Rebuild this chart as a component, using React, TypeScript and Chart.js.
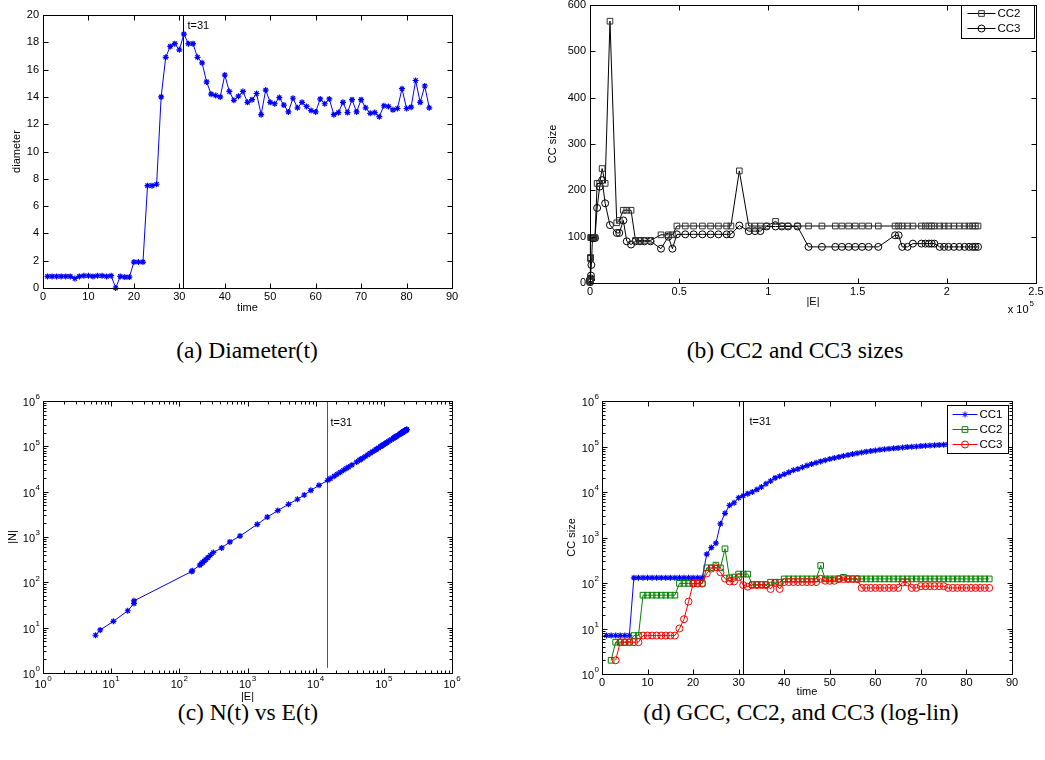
import React, { useEffect, useRef } from 'react';
import { Chart, registerables } from 'chart.js';

Chart.register(...registerables);

// ---------------- data ----------------
const timeSteps = Array.from({ length: 85 }, (_, i) => i + 1);

const diameter = [
  0.85, 0.85, 0.85, 0.85, 0.85, 0.85, 0.7, 0.85, 0.9, 0.9, 0.85, 0.9, 0.9, 0.85, 0.9,
  0, 0.85, 0.8, 0.8, 1.9, 1.9, 1.9, 7.5, 7.5, 7.6,
  14.0, 16.9, 17.7, 17.9, 17.45, 18.6, 17.9, 17.9, 16.9, 16.5,
  15.1, 14.2, 14.1, 14.0, 15.6, 14.4, 13.75, 14.05, 14.4, 13.6,
  13.8, 14.25, 12.7, 14.5, 13.6, 13.5, 13.95, 13.4, 12.9, 13.9,
  13.2, 13.6, 13.3, 13.0, 12.9, 13.85, 13.5, 13.85, 12.7, 12.85,
  13.6, 12.85, 13.8, 12.9, 13.8, 13.2, 12.8, 12.85, 12.55, 13.35,
  13.3, 13.05, 13.15, 14.6, 13.15, 13.25, 15.2, 13.6, 14.8, 13.2,
];

const edges = [
  5.9, 6.9, 10.8, 17.5, 21.6, 21.6, 152, 155, 200, 210,
  220, 232, 245, 262, 285, 315, 418, 551, 776, 1390,
  1950, 2780, 4000, 5400, 6800, 8500, 11200, 15000, 16400, 18700,
  20600, 23000, 25500, 28000, 30500, 34000, 39800, 43900, 46200, 48700,
  53400, 58100, 63000, 67600, 72000, 76600, 79000, 83700, 89000, 92500,
  95500, 99000, 104000, 107500, 111000, 116300, 122500, 130000, 137500, 141200,
  145000, 148700, 152500, 156200, 161600, 171000, 173000, 175000, 178000, 181000,
  185800, 188000, 190000, 191500, 193000, 196000, 198500, 201000, 204000, 207000,
  210000, 212500, 214500, 216000, 217500,
];

const nodes = [
  6.8, 8.9, 13.8, 23.6, 34, 39, 174, 180, 240, 258,
  275, 295, 320, 350, 395, 456, 575, 780, 1050, 1900,
  2750, 3830, 5270, 6800, 8440, 10700, 13800, 17800, 19400, 22000,
  24200, 26900, 29600, 32400, 35100, 38900, 45200, 49600, 52100, 54800,
  59900, 65000, 70300, 75300, 80100, 85000, 87600, 92600, 98300, 102000,
  105300, 109000, 114400, 118100, 121800, 127400, 134000, 142000, 150000, 153800,
  157900, 161800, 165800, 169700, 175400, 185300, 187400, 189500, 192700, 195900,
  201000, 203300, 205400, 207000, 208600, 211800, 214400, 217000, 220200, 223300,
  226500, 229100, 231200, 232800, 234400,
];

const cc1 = [
  7, 7, 7, 7, 7, 7,
  130, 130, 130, 130, 130, 130, 130, 130, 130, 130, 130, 130, 130, 130, 130, 130,
  430, 600, 750, 2000, 3400, 5100, 5800, 7500, 8300, 9200,
  10000, 11300, 12900, 15200, 17400, 20400, 22200, 24500, 27000, 30000,
  32000, 35000, 38000, 41000, 44000, 47000, 50000, 53000, 56000, 59000,
  62000, 65000, 68000, 71000, 74000, 77000, 79500, 82000, 84500, 87000,
  89000, 91000, 93000, 95000, 97000, 98500, 100000, 102000, 103500, 105000,
  106500, 108000, 109500, 111000, 112000, 113000, 114000, 115000, 116000, 117000,
  118000, 119000, 120000,
];

const cc2 = [
  null, 2, 5, 5, 5, 5, 7, 7,
  54, 54, 54, 54, 54, 54, 54, 54,
  98, 98, 98, 98, 98, 98,
  215, 215, 247, 215, 565, 130, 135, 157, 157, 157,
  92, 92, 92, 92, 104, 104, 104,
  123, 123, 123, 123, 123, 123, 123, 123, 242, 123, 123, 123, 123, 133,
  123, 123, 123, 123, 123, 123, 123, 123, 123, 123, 123, 123, 123, 123, 123, 123,
  123, 123, 123, 123, 123, 123, 123, 123, 123, 123, 123, 123, 123, 123, 123, 123,
];

const cc3 = [
  null, null, 2, 5, 5, 5, 5, 5,
  7, 7, 7, 7, 7, 7, 7, 7,
  10, 16, 39, 97, 97, 97,
  162, 208, 222, 172, 125, 108, 108, 135, 90, 83,
  90, 90, 90, 90, 74, 100, 74,
  105, 105, 105, 105, 105, 105, 105, 105, 124, 112, 112, 112,
  122, 122, 122, 122, 122,
  78, 78, 78, 78, 78, 78, 78, 78, 78, 103, 103, 78, 78,
  85, 85, 85, 85, 85, 85,
  78, 78, 78, 78, 78, 78, 78, 78, 78, 78,
];

const timeTicks = [0, 10, 20, 30, 40, 50, 60, 70, 80, 90];
const timeTickLabels = ['0', '10', '20', '30', '40', '50', '60', '70', '80', '90'];
const diameterTicks = [0, 2, 4, 6, 8, 10, 12, 14, 16, 18, 20];
const diameterTickLabels = ['0', '2', '4', '6', '8', '10', '12', '14', '16', '18', '20'];
const ccLinTicks = [0, 100, 200, 300, 400, 500, 600];
const ccLinTickLabels = ['0', '100', '200', '300', '400', '500', '600'];
const edgeLinTicks = [0, 50000, 100000, 150000, 200000, 250000];
const edgeLinTickLabels = ['0', '0.5', '1', '1.5', '2', '2.5'];
const decadeTicks = [1, 10, 100, 1000, 10000, 100000, 1000000];
const decadeExponents = ['0', '1', '2', '3', '4', '5', '6'];
const seriesNames = ['CC1', 'CC2', 'CC3'];
const markerLabel = 't=31';
const captions = ['(a) Diameter(t)', '(b) CC2 and CC3 sizes', '(c) N(t) vs E(t)', '(d) GCC, CC2, and CC3 (log-lin)'];

// ---------------- helpers ----------------
const FONT = '"Liberation Sans", Arial, Helvetica, sans-serif';
const BLUE = '#0000ff';
const GREEN = '#008000';
const RED = '#ff0000';

const minorDecades: number[] = [];
for (let k = 0; k < 6; k++) for (let m = 2; m <= 9; m++) minorDecades.push(m * Math.pow(10, k));

type MarkerStyle = 'star' | 'rect' | 'circle';
type LegendRow = { label: string; line: string; marker: string; style: MarkerStyle; r: number };
type PanelCfg = {
  xTicks: number[]; xLabels: string[]; xExp?: boolean; xMinor?: number[]; xLabelDy: number;
  yTicks: number[]; yLabels: string[]; yExp?: boolean; yMinor?: number[]; yLabelDx: number;
  xTitle: string; xTitleDy: number; yTitle: string; yTitleDx: number;
  multiplier?: string;
  vline?: { x: number; yFrom?: number; color: string; label: string; dx: number; dy: number };
  legend?: { dRight: number; dTop: number; w: number; h: number; rowY: number[]; lineX: [number, number]; textX: number; rows: LegendRow[] };
};

function drawMarker(ctx: CanvasRenderingContext2D, style: MarkerStyle, x: number, y: number, r: number, color: string) {
  ctx.save();
  ctx.strokeStyle = color;
  ctx.lineWidth = 1;
  ctx.beginPath();
  if (style === 'star') {
    for (const a of [0, Math.PI / 4, Math.PI / 2, (3 * Math.PI) / 4]) {
      const dx = Math.cos(a) * r;
      const dy = Math.sin(a) * r;
      ctx.moveTo(x - dx, y - dy);
      ctx.lineTo(x + dx, y + dy);
    }
  } else if (style === 'rect') {
    const s = r * Math.SQRT1_2;
    ctx.rect(x - s, y - s, 2 * s, 2 * s);
  } else {
    ctx.arc(x, y, r, 0, Math.PI * 2);
  }
  ctx.stroke();
  ctx.restore();
}

function drawPow(ctx: CanvasRenderingContext2D, exp: string, x: number, y: number, align: 'center' | 'right') {
  ctx.font = `11px ${FONT}`;
  const bw = ctx.measureText('10').width;
  ctx.font = `8px ${FONT}`;
  const ew = ctx.measureText(exp).width;
  const total = bw + ew + 0.5;
  const left = align === 'center' ? x - total / 2 : x - total;
  ctx.textAlign = 'left';
  ctx.textBaseline = 'middle';
  ctx.font = `11px ${FONT}`;
  ctx.fillText('10', left, y);
  ctx.font = `8px ${FONT}`;
  ctx.fillText(exp, left + bw + 0.5, y - 6);
}

function makeAxesPlugin(cfg: PanelCfg) {
  return {
    id: 'matlabAxes',
    beforeDatasetsDraw(chart: any) {
      const v = cfg.vline;
      if (!v) return;
      const { ctx, chartArea: a, scales } = chart;
      const x = Math.round(scales.x.getPixelForValue(v.x)) + 0.5;
      const yb = v.yFrom !== undefined ? scales.y.getPixelForValue(v.yFrom) : a.bottom;
      ctx.save();
      ctx.strokeStyle = v.color;
      ctx.lineWidth = 1;
      ctx.beginPath();
      ctx.moveTo(x, a.top);
      ctx.lineTo(x, yb);
      ctx.stroke();
      ctx.fillStyle = '#000';
      ctx.font = `11px ${FONT}`;
      ctx.textAlign = 'left';
      ctx.textBaseline = 'middle';
      ctx.fillText(v.label, x + v.dx, a.top + v.dy);
      ctx.restore();
    },
    afterDatasetsDraw(chart: any) {
      const { ctx, chartArea: a, scales } = chart;
      const L = Math.round(a.left) + 0.5;
      const R = Math.round(a.right) + 0.5;
      const T = Math.round(a.top) + 0.5;
      const B = Math.round(a.bottom) + 0.5;
      ctx.save();
      ctx.strokeStyle = '#000';
      ctx.lineWidth = 1;
      ctx.strokeRect(L, T, R - L, B - T);
      const tick = (vals: number[], len: number, horiz: boolean) => {
        ctx.beginPath();
        for (const v of vals) {
          if (horiz) {
            const p = Math.round(scales.x.getPixelForValue(v)) + 0.5;
            ctx.moveTo(p, B); ctx.lineTo(p, B - len);
            ctx.moveTo(p, T); ctx.lineTo(p, T + len);
          } else {
            const p = Math.round(scales.y.getPixelForValue(v)) + 0.5;
            ctx.moveTo(L, p); ctx.lineTo(L + len, p);
            ctx.moveTo(R, p); ctx.lineTo(R - len, p);
          }
        }
        ctx.stroke();
      };
      tick(cfg.xTicks, 5, true);
      tick(cfg.yTicks, 5, false);
      if (cfg.xMinor) tick(cfg.xMinor, 3, true);
      if (cfg.yMinor) tick(cfg.yMinor, 3, false);

      ctx.fillStyle = '#000';
      cfg.xTicks.forEach((v, i) => {
        const p = scales.x.getPixelForValue(v);
        const y = a.bottom + cfg.xLabelDy;
        if (cfg.xExp) drawPow(ctx, cfg.xLabels[i], p, y, 'center');
        else {
          ctx.font = `11px ${FONT}`;
          ctx.textAlign = 'center';
          ctx.textBaseline = 'middle';
          ctx.fillText(cfg.xLabels[i], p, y);
        }
      });
      cfg.yTicks.forEach((v, i) => {
        const p = scales.y.getPixelForValue(v);
        const x = a.left - cfg.yLabelDx;
        if (cfg.yExp) drawPow(ctx, cfg.yLabels[i], x, p + 2, 'right');
        else {
          ctx.font = `11px ${FONT}`;
          ctx.textAlign = 'right';
          ctx.textBaseline = 'middle';
          ctx.fillText(cfg.yLabels[i], x, p);
        }
      });

      ctx.font = `11px ${FONT}`;
      ctx.textAlign = 'center';
      ctx.textBaseline = 'middle';
      ctx.fillText(cfg.xTitle, (a.left + a.right) / 2, a.bottom + cfg.xTitleDy);
      ctx.save();
      ctx.translate(a.left - cfg.yTitleDx, (a.top + a.bottom) / 2);
      ctx.rotate(-Math.PI / 2);
      ctx.fillText(cfg.yTitle, 0, 0);
      ctx.restore();

      if (cfg.multiplier) {
        ctx.font = `8px ${FONT}`;
        const ew = ctx.measureText(cfg.multiplier).width;
        ctx.font = `11px ${FONT}`;
        const base = 'x 10';
        const bw = ctx.measureText(base).width;
        const right = a.right - 2;
        ctx.textAlign = 'left';
        ctx.textBaseline = 'middle';
        ctx.fillText(base, right - ew - bw - 1, a.bottom + 27);
        ctx.font = `8px ${FONT}`;
        ctx.fillText(cfg.multiplier, right - ew, a.bottom + 21);
      }

      const lg = cfg.legend;
      if (lg) {
        const bx = Math.round(a.right - lg.dRight - lg.w) + 0.5;
        const by = Math.round(a.top + lg.dTop) + 0.5;
        ctx.fillStyle = '#fff';
        ctx.fillRect(bx, by, lg.w, lg.h);
        ctx.strokeStyle = '#000';
        ctx.lineWidth = 1;
        ctx.strokeRect(bx, by, lg.w, lg.h);
        lg.rows.forEach((row, i) => {
          const y = by + lg.rowY[i];
          ctx.strokeStyle = row.line;
          ctx.beginPath();
          ctx.moveTo(bx + lg.lineX[0], y);
          ctx.lineTo(bx + lg.lineX[1], y);
          ctx.stroke();
          drawMarker(ctx, row.style, bx + (lg.lineX[0] + lg.lineX[1]) / 2, y, row.r, row.marker);
          ctx.fillStyle = '#000';
          ctx.font = `11.5px ${FONT}`;
          ctx.textAlign = 'left';
          ctx.textBaseline = 'middle';
          ctx.fillText(row.label, bx + lg.textX, y);
        });
      }
      ctx.restore();
    },
  };
}

function pts(xs: number[], ys: (number | null)[]) {
  return xs.map((x, i) => ({ x, y: ys[i] }));
}

function baseOptions(padding: any, xScale: any, yScale: any) {
  return {
    responsive: false,
    animation: false as const,
    devicePixelRatio: 1,
    events: [] as any[],
    layout: { padding },
    plugins: { legend: { display: false }, tooltip: { enabled: false }, title: { display: false } },
    scales: { x: { ...xScale, display: false }, y: { ...yScale, display: false } },
  };
}

const starStyle = (color: string) => ({
  borderColor: color, borderWidth: 1, pointStyle: 'star', pointRadius: 3, pointBorderWidth: 1.2,
  pointBorderColor: color, pointBackgroundColor: color, clip: false as const, tension: 0,
});
const openStyle = (line: string, marker: string, style: MarkerStyle, r: number) => ({
  borderColor: line, borderWidth: 1, pointStyle: style, pointRadius: r, pointBorderWidth: 1,
  pointBorderColor: marker, pointBackgroundColor: 'rgba(0,0,0,0)', clip: false as const, tension: 0,
});

function buildA(): any {
  const cfg: PanelCfg = {
    xTicks: timeTicks, xLabels: timeTickLabels, xLabelDy: 9,
    yTicks: diameterTicks, yLabels: diameterTickLabels, yLabelDx: 4,
    xTitle: 'time', xTitleDy: 20, yTitle: 'diameter', yTitleDx: 26,
    vline: { x: 30.7, color: '#000', label: markerLabel, dx: 4, dy: 11 },
  };
  return {
    type: 'line',
    data: { datasets: [{ data: pts(timeSteps, diameter), ...starStyle(BLUE) }] },
    options: baseOptions({ left: 43, top: 15, right: 68, bottom: 42 }, { type: 'linear', min: 0, max: 90 }, { type: 'linear', min: 0, max: 20 }),
    plugins: [makeAxesPlugin(cfg)],
  };
}

function buildB(): any {
  const cfg: PanelCfg = {
    xTicks: edgeLinTicks, xLabels: edgeLinTickLabels, xLabelDy: 9,
    yTicks: ccLinTicks, yLabels: ccLinTickLabels, yLabelDx: 4,
    xTitle: '|E|', xTitleDy: 19, yTitle: 'CC size', yTitleDx: 37,
    multiplier: '5',
    legend: {
      dRight: 2, dTop: 0, w: 73, h: 33, rowY: [8, 23], lineX: [6, 34], textX: 36,
      rows: [
        { label: seriesNames[1], line: '#000', marker: '#333', style: 'rect', r: 4 },
        { label: seriesNames[2], line: '#000', marker: '#000', style: 'circle', r: 3.5 },
      ],
    },
  };
  return {
    type: 'line',
    data: {
      datasets: [
        { data: pts(edges, cc2), ...openStyle('#000', '#333', 'rect', 4), order: 1 },
        { data: pts(edges, cc3), ...openStyle('#000', '#000', 'circle', 3.5), order: 2 },
      ],
    },
    options: baseOptions({ left: 70, top: 5, right: 9, bottom: 47 }, { type: 'linear', min: 0, max: 250000 }, { type: 'linear', min: 0, max: 600 }),
    plugins: [makeAxesPlugin(cfg)],
  };
}

function buildC(): any {
  const cfg: PanelCfg = {
    xTicks: decadeTicks, xLabels: decadeExponents, xExp: true, xMinor: minorDecades, xLabelDy: 12,
    yTicks: decadeTicks, yLabels: decadeExponents, yExp: true, yMinor: minorDecades, yLabelDx: 3,
    xTitle: '|E|', xTitleDy: 24, yTitle: '|N|', yTitleDx: 30,
    vline: { x: 14700, yFrom: 1.3, color: '#555', label: markerLabel, dx: 3, dy: 22 },
  };
  return {
    type: 'line',
    data: { datasets: [{ data: pts(edges, nodes), ...starStyle(BLUE) }] },
    options: baseOptions({ left: 43, top: 21, right: 68, bottom: 37 }, { type: 'logarithmic', min: 1, max: 1e6 }, { type: 'logarithmic', min: 1, max: 1e6 }),
    plugins: [makeAxesPlugin(cfg)],
  };
}

function buildD(): any {
  const cfg: PanelCfg = {
    xTicks: timeTicks, xLabels: timeTickLabels, xLabelDy: 9,
    yTicks: decadeTicks, yLabels: decadeExponents, yExp: true, yMinor: minorDecades, yLabelDx: 3,
    xTitle: 'time', xTitleDy: 18, yTitle: 'CC size', yTitleDx: 30,
    vline: { x: 30.85, color: '#000', label: markerLabel, dx: 6, dy: 21 },
    legend: {
      dRight: 4, dTop: 4, w: 61, h: 48, rowY: [9, 24, 39], lineX: [5, 30], textX: 32,
      rows: [
        { label: seriesNames[0], line: BLUE, marker: BLUE, style: 'star', r: 3 },
        { label: seriesNames[1], line: GREEN, marker: GREEN, style: 'rect', r: 4 },
        { label: seriesNames[2], line: RED, marker: RED, style: 'circle', r: 3.5 },
      ],
    },
  };
  return {
    type: 'line',
    data: {
      datasets: [
        { data: pts(timeSteps, cc1), ...starStyle(BLUE), order: 3 },
        { data: pts(timeSteps, cc2), ...openStyle(GREEN, GREEN, 'rect', 4), order: 2 },
        { data: pts(timeSteps, cc3), ...openStyle(RED, RED, 'circle', 3.5), order: 1 },
      ],
    },
    options: baseOptions({ left: 82, top: 21, right: 33, bottom: 36 }, { type: 'linear', min: 0, max: 90 }, { type: 'logarithmic', min: 1, max: 1e6 }),
    plugins: [makeAxesPlugin(cfg)],
  };
}

function Panel(props: { left: number; top: number; w: number; h: number; build: () => any }) {
  const ref = useRef<HTMLCanvasElement>(null);
  useEffect(() => {
    const chart = new Chart(ref.current as HTMLCanvasElement, props.build());
    return () => chart.destroy();
  }, []);
  return (
    <canvas
      ref={ref}
      width={props.w}
      height={props.h}
      style={{ position: 'absolute', left: props.left, top: props.top, width: props.w, height: props.h }}
    />
  );
}

function Caption(props: { cx: number; cy: number; text: string }) {
  return (
    <div
      style={{
        position: 'absolute', left: props.cx - 250, top: props.cy - 15, width: 500, height: 30,
        textAlign: 'center', lineHeight: '30px', fontSize: 23.5, color: '#000',
        fontFamily: '"Liberation Serif", "Times New Roman", serif', whiteSpace: 'nowrap',
      }}
    >
      {props.text}
    </div>
  );
}

export default function App() {
  return (
    <div style={{ position: 'absolute', left: 0, top: 0, width: 1045, height: 760, background: '#fff', overflow: 'hidden' }}>
      <Caption cx={247} cy={350} text={captions[0]} />
      <Caption cx={795} cy={350} text={captions[1]} />
      <Caption cx={248} cy={712} text={captions[2]} />
      <Caption cx={801} cy={712} text={captions[3]} />
      <Panel left={0} top={0} w={520} h={330} build={buildA} />
      <Panel left={520} top={0} w={525} h={330} build={buildB} />
      <Panel left={0} top={380} w={520} h={330} build={buildC} />
      <Panel left={520} top={380} w={525} h={330} build={buildD} />
    </div>
  );
}
